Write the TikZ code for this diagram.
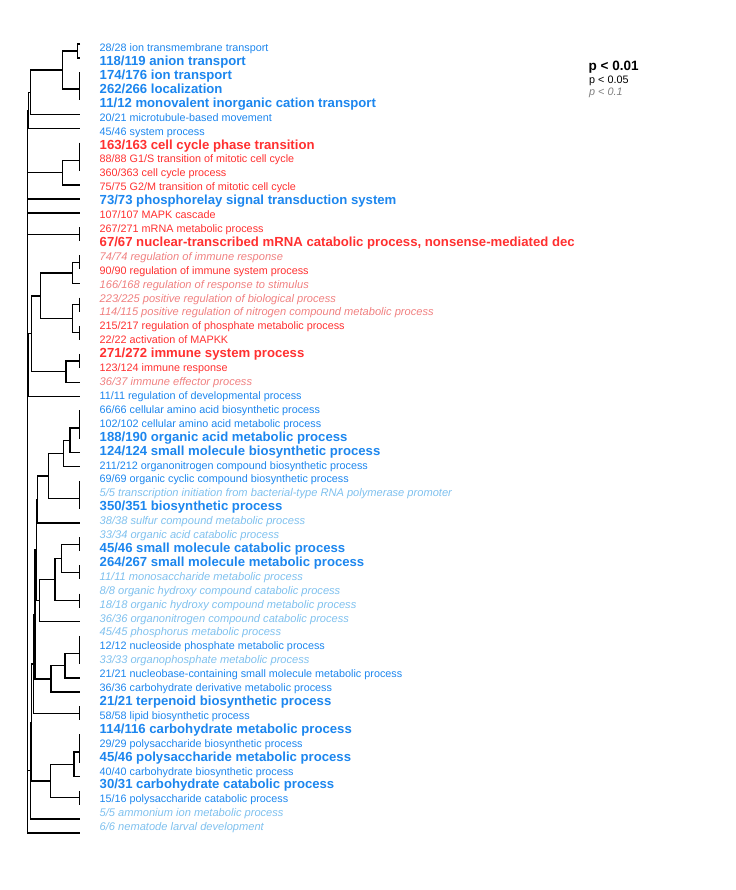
\documentclass[tikz,border=0pt]{standalone}
\usepackage{fontspec}
\setmainfont{Liberation Sans}
\definecolor{dblue}{HTML}{1C86EE}
\definecolor{fred}{HTML}{FF3030}
\definecolor{skyb}{HTML}{7EC0EE}
\definecolor{lcoral}{HTML}{F08080}
\definecolor{gry}{HTML}{7F7F7F}
\newcommand\dbr[5]{\draw[tr] (#2,#3) -- (#1,#3) -- (#1,#5) -- (#4,#5);}
\newcommand\dzv[2]{\draw[tr] (79.5,#1) -- (79.5,#2);}
\newcommand\rowtxt[3]{\node[#2] (r#1) at (99.5,{51.7+13.91*(#1-1)}) {#3};}
\begin{document}
\begin{tikzpicture}[x=1pt,y=-1pt,
  tr/.style={line width=1.3pt,black},
  lbl/.style={anchor=base west,inner sep=0pt,font=\fontsize{10.8}{12}\selectfont},
  sn/.style={lbl,text=dblue},
  sb/.style={lbl,text=dblue,font=\fontsize{13.15}{14}\selectfont\bfseries},
  rn/.style={lbl,text=fred},
  rb/.style={lbl,text=fred,font=\fontsize{13.15}{14}\selectfont\bfseries},
  pi/.style={lbl,text=lcoral,font=\fontsize{11.1}{12}\selectfont\itshape},
  si/.style={lbl,text=skyb,font=\fontsize{11.1}{12}\selectfont\itshape}]
\useasboundingbox (0,0) rectangle (735,890);
% ---------- labels ----------
\rowtxt{1}{sn}{28/28 ion transmembrane transport}
\rowtxt{2}{sb}{118/119 anion transport}
\rowtxt{3}{sb}{174/176 ion transport}
\rowtxt{4}{sb}{262/266 localization}
\rowtxt{5}{sb}{11/12 monovalent inorganic cation transport}
\rowtxt{6}{sn}{20/21 microtubule-based movement}
\rowtxt{7}{sn}{45/46 system process}
\rowtxt{8}{rb}{163/163 cell cycle phase transition}
\rowtxt{9}{rn}{88/88 G1/S transition of mitotic cell cycle}
\rowtxt{10}{rn}{360/363 cell cycle process}
\rowtxt{11}{rn}{75/75 G2/M transition of mitotic cell cycle}
\rowtxt{12}{sb}{73/73 phosphorelay signal transduction system}
\rowtxt{13}{rn}{107/107 MAPK cascade}
\rowtxt{14}{rn}{267/271 mRNA metabolic process}
\rowtxt{15}{rb}{67/67 nuclear-transcribed mRNA catabolic process, nonsense-mediated dec}
\rowtxt{16}{pi}{74/74 regulation of immune response}
\rowtxt{17}{rn}{90/90 regulation of immune system process}
\rowtxt{18}{pi}{166/168 regulation of response to stimulus}
\rowtxt{19}{pi}{223/225 positive regulation of biological process}
\rowtxt{20}{pi}{114/115 positive regulation of nitrogen compound metabolic process}
\rowtxt{21}{rn}{215/217 regulation of phosphate metabolic process}
\rowtxt{22}{rn}{22/22 activation of MAPKK}
\rowtxt{23}{rb}{271/272 immune system process}
\rowtxt{24}{rn}{123/124 immune response}
\rowtxt{25}{pi}{36/37 immune effector process}
\rowtxt{26}{sn}{11/11 regulation of developmental process}
\rowtxt{27}{sn}{66/66 cellular amino acid biosynthetic process}
\rowtxt{28}{sn}{102/102 cellular amino acid metabolic process}
\rowtxt{29}{sb}{188/190 organic acid metabolic process}
\rowtxt{30}{sb}{124/124 small molecule biosynthetic process}
\rowtxt{31}{sn}{211/212 organonitrogen compound biosynthetic process}
\rowtxt{32}{sn}{69/69 organic cyclic compound biosynthetic process}
\rowtxt{33}{si}{5/5 transcription initiation from bacterial-type RNA polymerase promoter}
\rowtxt{34}{sb}{350/351 biosynthetic process}
\rowtxt{35}{si}{38/38 sulfur compound metabolic process}
\rowtxt{36}{si}{33/34 organic acid catabolic process}
\rowtxt{37}{sb}{45/46 small molecule catabolic process}
\rowtxt{38}{sb}{264/267 small molecule metabolic process}
\rowtxt{39}{si}{11/11 monosaccharide metabolic process}
\rowtxt{40}{si}{8/8 organic hydroxy compound catabolic process}
\rowtxt{41}{si}{18/18 organic hydroxy compound metabolic process}
\rowtxt{42}{si}{36/36 organonitrogen compound catabolic process}
\rowtxt{43}{si}{45/45 phosphorus metabolic process}
\rowtxt{44}{sn}{12/12 nucleoside phosphate metabolic process}
\rowtxt{45}{si}{33/33 organophosphate metabolic process}
\rowtxt{46}{sn}{21/21 nucleobase-containing small molecule metabolic process}
\rowtxt{47}{sn}{36/36 carbohydrate derivative metabolic process}
\rowtxt{48}{sb}{21/21 terpenoid biosynthetic process}
\rowtxt{49}{sn}{58/58 lipid biosynthetic process}
\rowtxt{50}{sb}{114/116 carbohydrate metabolic process}
\rowtxt{51}{sn}{29/29 polysaccharide biosynthetic process}
\rowtxt{52}{sb}{45/46 polysaccharide metabolic process}
\rowtxt{53}{sn}{40/40 carbohydrate biosynthetic process}
\rowtxt{54}{sb}{30/31 carbohydrate catabolic process}
\rowtxt{55}{sn}{15/16 polysaccharide catabolic process}
\rowtxt{56}{si}{5/5 ammonium ion metabolic process}
\rowtxt{57}{si}{6/6 nematode larval development}
% ---------- legend ----------
\node[lbl,font=\fontsize{13.5}{14}\selectfont\bfseries] (leg1) at (588.5,70.5) {p < 0.01};
\node[lbl] (leg2) at (589,83.3) {p < 0.05};
\node[lbl,text=gry,font=\fontsize{10.8}{12}\selectfont\itshape] (leg3) at (589,95.5) {p < 0.1};
% ---------- dendrogram ----------
\dbr{77.3}{80}{44}{80}{58.09}
\dzv{72.18}{100.36}
\dbr{62.7}{77.3}{51.05}{79.5}{89}
\dbr{30.7}{62.7}{70}{80}{114.45}
\dbr{28.3}{30.7}{92.2}{80}{128.54}
\dzv{142.63}{170.81}
\dbr{62.7}{79.5}{160.2}{80}{184.9}
\dzv{227.17}{241.26}
\dzv{255.35}{269.44}
\dbr{72.7}{79.5}{262.4}{80}{283.53}
\dzv{297.62}{311.71}
\dzv{325.8}{339.89}
\dbr{72.7}{79.5}{304.7}{79.5}{332.8}
\dbr{40.7}{72.7}{273}{72.7}{318.8}
\dzv{353.98}{368.07}
\dbr{66}{79.5}{361}{80}{382.16}
\dbr{31.7}{40.7}{295.9}{66}{371.6}
\dzv{410.34}{438.52}
\dbr{70}{79.5}{428}{80}{452.61}
\dbr{63.3}{70}{440.3}{80}{466.7}
\dzv{480.79}{508.97}
\dbr{48.3}{63.3}{453.5}{79.5}{498.4}
\dbr{37.3}{48.3}{476}{80}{523.06}
\dzv{537.15}{551.24}
\dzv{565.33}{579.42}
\dbr{61.7}{79.5}{544.2}{79.5}{572.4}
\dzv{593.51}{607.6}
\dbr{55}{61.7}{558.3}{79.5}{600.6}
\dbr{39.3}{55}{579.4}{80}{621.69}
\dbr{36.3}{37.3}{499.5}{39.3}{600.5}
\dzv{635.78}{663.96}
\dbr{65}{79.5}{653.4}{80}{678.05}
\dbr{51}{65}{665.7}{80}{692.14}
\dbr{35}{36.3}{550}{51}{678.9}
\dzv{706.23}{720.32}
\dbr{33.3}{35}{614.5}{79.5}{713.3}
\dzv{734.41}{762.59}
\dbr{74}{79.5}{752}{80}{776.68}
\dzv{790.77}{804.86}
\dbr{50.7}{74}{764.3}{79.5}{797.8}
\dbr{31.7}{33.3}{663.9}{50.7}{781.1}
\dbr{30.7}{31.7}{722.5}{80}{818.95}
% root level
\draw[tr] (28.3,110.4) -- (27.3,110.4) -- (27.3,833.04) -- (80,833.04);
\draw[tr] (27.3,172.6) -- (62.7,172.6);
\draw[tr] (27.3,198.99) -- (80,198.99);
\draw[tr] (27.3,213.08) -- (80,213.08);
\draw[tr] (27.3,234.2) -- (79.5,234.2);
\draw[tr] (27.3,333.8) -- (31.7,333.8);
\draw[tr] (28.3,333.8) -- (28.3,396.25);
\draw[tr] (27.3,396.25) -- (80,396.25);
\draw[tr] (27.3,770.7) -- (30.7,770.7);
\end{tikzpicture}
\end{document}
